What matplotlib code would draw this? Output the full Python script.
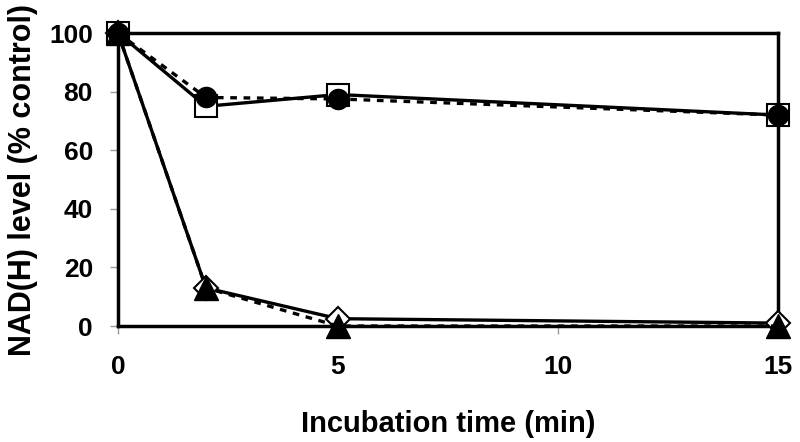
import matplotlib
matplotlib.use("Agg")
import matplotlib.pyplot as plt

time = [0, 2, 5, 15]
squares = [100, 75, 79, 72]
circles = [100, 78, 77.5, 72]
diamonds = [100, 13, 2.5, 1]
triangles = [100, 13, 0, 0]

plt.rcParams['font.family'] = ['Liberation Sans', 'DejaVu Sans']
plt.rcParams['font.weight'] = 'bold'

fig = plt.figure(figsize=(8, 4.42), dpi=100)
ax = fig.add_axes([0.1475, 0.2624, 0.825, 0.6629])

lw = 2.4
ax.plot(time, squares, '-', color='black', lw=lw, marker='s', ms=15.5,
        mfc='white', mec='black', mew=1.5, clip_on=False, zorder=3)
ax.plot(time, circles, color='black', lw=lw, ls=(0, (2, 2)), marker='o', ms=14.5,
        mfc='black', mec='black', clip_on=False, zorder=4)
ax.plot(time, diamonds, '-', color='black', lw=lw, marker='D', ms=12,
        mfc='white', mec='black', mew=1.5, clip_on=False, zorder=3)
ax.plot(time, triangles, color='black', lw=lw, ls=(0, (2, 2)), marker='^', ms=17,
        mfc='black', mec='black', clip_on=False, zorder=4)

ax.set_xlim(0, 15)
ax.set_ylim(0, 100)
ax.set_xticks([0, 5, 10, 15])
ax.set_yticks([0, 20, 40, 60, 80, 100])
for s in ax.spines.values():
    s.set_linewidth(2.5)
ax.tick_params(axis='both', direction='out', length=6, width=1, color='#999999',
               labelsize=19)
ax.tick_params(axis='x', pad=15)
ax.tick_params(axis='y', pad=12)
for t in ax.get_xticklabels() + ax.get_yticklabels():
    t.set_fontweight('bold')

ax.set_xlabel('Incubation time (min)', fontsize=21, fontweight='bold', labelpad=22)
ax.set_ylabel('NAD(H) level (% control)', fontsize=22, fontweight='bold', labelpad=8)

fig.savefig('out.png', dpi=100)
